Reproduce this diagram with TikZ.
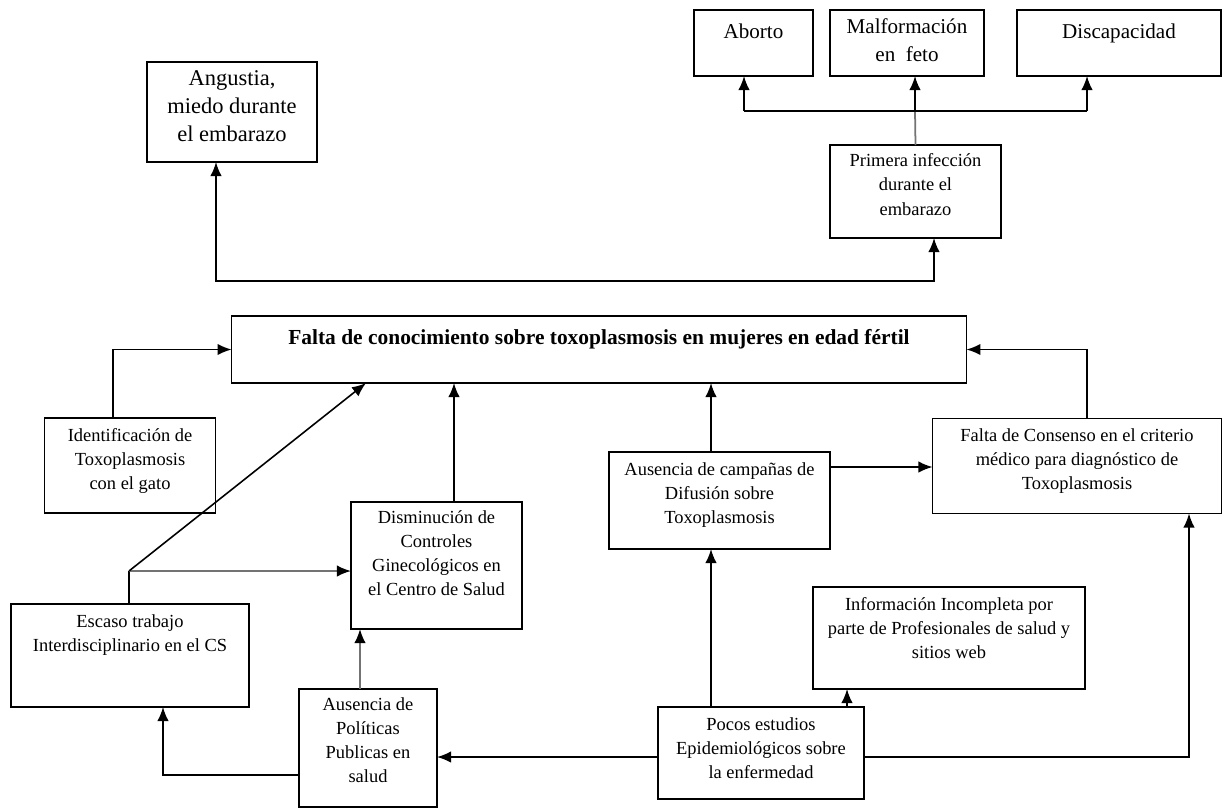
\documentclass[tikz,border=0pt]{standalone}
\usepackage{fontspec}
\setmainfont{Liberation Serif}
\usetikzlibrary{arrows.meta,positioning}

\tikzset{
	caja/.style={draw, line width=0.9pt, inner sep=0pt, outer sep=0pt},
	texto/.style={align=center, inner sep=0pt, font=\fontsize{10.5}{13.7}\selectfont, execute at begin node=\strut},
	textogr/.style={texto, font=\fontsize{12}{16}\selectfont},
	gris/.style={draw=black!55, line width=1pt},
}

\begin{document}
\begin{tikzpicture}[x=0.02cm, y=-0.02cm, line width=0.9pt, >={Latex[length=8pt,width=6.5pt,color=black]}]
			\useasboundingbox (0,0) rectangle (1224,809);
			% consecuencias (arriba)
			\node[caja, minimum width=2.38cm, minimum height=1.32cm] (aborto) at (753.5,43) {};
			\node[caja, minimum width=3.08cm, minimum height=1.32cm] (malf) at (907,43) {};
			\node[caja, minimum width=4.08cm, minimum height=1.32cm] (discap) at (1119,43) {};
			\node[caja, minimum width=3.42cm, minimum height=1.86cm] (primera) at (915.5,191.5) {};
			\node[caja, minimum width=3.4cm, minimum height=2.0cm] (angustia) at (232,112) {};
			\node[textogr, below=4.4pt of aborto.north] (aborto-t) {Aborto};
			\node[textogr, below=4.4pt of malf.north] (malf-t) {Malformación\\en~ feto};
			\node[textogr, below=4.4pt of discap.north] (discap-t) {Discapacidad};
			\node[texto, below=4.6pt of primera.north] (primera-t) {Primera infección\\durante el\\embarazo};
			\node[textogr, font=\fontsize{12.8}{16}\selectfont, below=4.4pt of angustia.north] (angustia-t) {Angustia,\\miedo durante\\el embarazo};
			% problema central
			\node[caja, minimum width=14.7cm, minimum height=1.34cm] (main) at (599,349.5) {};
			\node[texto, font=\bfseries\fontsize{12.2}{15}\selectfont, below=5.4pt of main.north] (main-t) {Falta de conocimiento sobre toxoplasmosis en mujeres en edad fértil};
			% causas
			\node[caja, minimum width=3.42cm, minimum height=1.9cm] (ident) at (130,465.5) {};
			\node[caja, minimum width=3.42cm, minimum height=2.54cm] (dismin) at (436.5,565.5) {};
			\node[caja, minimum width=4.42cm, minimum height=1.94cm] (campanas) at (719.5,500.5) {};
			\node[caja, minimum width=5.78cm, minimum height=1.9cm] (consenso) at (1077,466) {};
			\node[caja, minimum width=4.76cm, minimum height=2.06cm] (escaso) at (130,655.5) {};
			\node[caja, minimum width=5.44cm, minimum height=2.04cm] (info) at (949,638) {};
			\node[caja, minimum width=2.76cm, minimum height=2.36cm] (politicas) at (368,748) {};
			\node[caja, minimum width=4.12cm, minimum height=1.84cm] (pocos) at (761,753) {};
			\node[texto, below=5.4pt of ident.north] (ident-t) {Identificación de\\Toxoplasmosis\\con el gato};
			\node[texto, below=4.4pt of dismin.north] (dismin-t) {Disminución de\\Controles\\Ginecológicos en\\el Centro de Salud};
			\node[texto, below=5.6pt of campanas.north] (campanas-t) {Ausencia de campañas de\\Difusión sobre\\Toxoplasmosis};
			\node[texto, below=5.4pt of consenso.north] (consenso-t) {Falta de Consenso en el criterio\\médico para diagnóstico de\\Toxoplasmosis};
			\node[texto, below=5.6pt of escaso.north] (escaso-t) {Escaso trabajo\\Interdisciplinario en el CS};
			\node[texto, below=5.6pt of info.north] (info-t) {Información Incompleta por\\parte de Profesionales de salud y\\sitios web};
			\node[texto, below=4.6pt of politicas.north] (politicas-t) {Ausencia de\\Políticas\\Publicas en\\salud};
			\node[texto, below=5.4pt of pocos.north] (pocos-t) {Pocos estudios\\Epidemiológicos sobre\\la enfermedad};
			% conectores
			\coordinate (r1) at (744,111);
			\coordinate (r2) at (915,111);
			\coordinate (r3) at (1087,111);
			\coordinate (nudo) at (129,571);
			\draw[gris] (primera.north) -- (r2);
			\draw[->] (r2) -- (r2 |- malf.south);
			\draw (r1) -- (r3);
			\draw[->] (r1) -- (r1 |- aborto.south);
			\draw[->] (r3) -- (r3 |- discap.south);
			\draw[<->] (angustia.south -| 216,0) -- (216,281) -- (934,281) -- (primera.south -| 934,0);
			\draw[->] (ident.north -| 113,0) |- (main.west);
			\draw (escaso.north -| nudo) -- (nudo);
			\draw[->, gris] (nudo) -- (nudo -| dismin.west);
			\draw[->] (nudo) -- (main.south -| 366,0);
			\draw[->] (dismin.north -| 454,0) -- (main.south -| 454,0);
			\draw[->] (campanas.north -| 711,0) -- (main.south -| 711,0);
			\draw[->] (campanas.east |- 0,467) -- (consenso.west |- 0,467);
			\draw[->] (consenso.north -| 1087,0) |- (main.east);
			\draw[->] (pocos.north -| 711,0) -- (campanas.south -| 711,0);
			\draw[->] (pocos.north -| 847,0) -- (info.south -| 847,0);
			\draw[->] (pocos.east |- 0,757) -| (consenso.south -| 1189,0);
			\draw[->] (pocos.west |- 0,757) -- (politicas.east |- 0,757);
			\draw[->] (politicas.west |- 0,775) -| (escaso.south -| 163,0);
			\draw[->, gris] (politicas.north -| 360,0) -- (dismin.south -| 360,0);
		\end{tikzpicture}
\end{document}
